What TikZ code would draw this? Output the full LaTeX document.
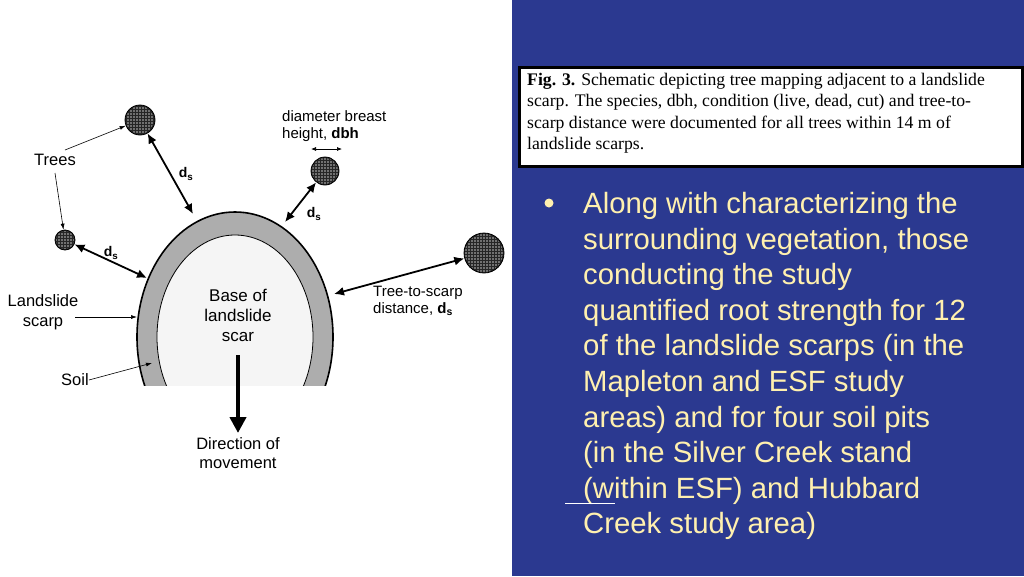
\documentclass[tikz,border=0pt]{standalone}
\usepackage{fontspec}
\setmainfont{Liberation Sans}
\newfontfamily\serif{Liberation Serif}
\usetikzlibrary{arrows.meta}
\definecolor{panel}{RGB}{43,57,144}
\definecolor{btext}{RGB}{255,240,175}
\begin{document}
\begin{tikzpicture}[x=1pt,y=-1pt,
  lbl/.style={font=\fontsize{16.5}{19.5}\selectfont,inner sep=0pt},
  dbl/.style={line width=1.8pt,{Latex[length=10pt,width=9pt]}-{Latex[length=10pt,width=9pt]}},
  thin/.style={line width=0.6pt,-{Latex[length=6pt,width=4pt]}},
  tree/.style={circle,draw=black,line width=0.8pt,fill=black!85,inner sep=0pt}]
\useasboundingbox (0,0) rectangle (1024,576);
\fill[white] (0,0) rectangle (512,576);
\fill[panel] (512,0) rectangle (1024,576);
% scarp
\begin{scope}
\clip (0,0) rectangle (512,385);
\draw[fill=black!32,line width=1.6pt] (235,337) ellipse [x radius=98,y radius=125];
\draw[fill=black!4,line width=0.8pt] (235,337) ellipse [x radius=78,y radius=102];
\end{scope}
% trees
\foreach \n/\x/\y/\r in {t1/140/120/15,t2/65/240/10,t3/325/171/14,t4/484/253/20}{
  \node[tree,minimum size=2*\r pt] (\n) at (\x,\y) {};
  \begin{scope}
  \clip (\x,\y) circle (\r-1);
  \foreach \i in {-8,...,8}{\foreach \j in {-8,...,8}{
    \fill[white!75!black] (\x+3*\i,\y+3*\j) circle (0.8);}}
  \end{scope}
}
\coordinate (s1) at (193,214);
\coordinate (s2) at (147,278);
\coordinate (s3) at (285,222);
\coordinate (s4) at (334,294);
\draw[dbl] (t1) -- (s1);
\draw[dbl] (t2) -- (s2);
\draw[dbl] (t3) -- (s3);
\draw[dbl] (t4) -- (s4);
\coordinate (dbhA) at (311,149); \coordinate (dbhB) at (342,149);
\draw[line width=0.7pt,{Latex[length=5pt,width=4pt]}-{Latex[length=5pt,width=4pt]}] (dbhA) -- (dbhB);
% labels
\node[lbl] (trees) at (55,160) {Trees};
\draw[thin] (65,150) -- (t1);
\draw[thin] (55,173) -- (t2);
\node[lbl,font=\fontsize{14}{15}\selectfont\bfseries] (d1) at (186,174) {d\textsubscript{s}};
\node[lbl,font=\fontsize{14}{15}\selectfont\bfseries] (d2) at (111,253) {d\textsubscript{s}};
\node[lbl,font=\fontsize{14}{15}\selectfont\bfseries] (d3) at (314,214) {d\textsubscript{s}};
\node[lbl,anchor=west,align=left,font=\fontsize{15}{16.5}\selectfont] (dbh) at (282,126) {diameter breast\\height, \textbf{dbh}};
\node[lbl,align=center] (ls) at (43,312) {Landslide\\scarp};
\coordinate (lsp) at (137,317);
\draw[thin] (75,317) -- (lsp);
\node[lbl] (soil) at (75,380) {Soil};
\coordinate (soilp) at (152,363);
\draw[thin] (soil.east) -- (soilp);
\node[lbl,align=center,font=\fontsize{17}{20}\selectfont] (base) at (238,315) {Base of\\landslide\\scar};
\node[lbl,anchor=west,align=left,font=\fontsize{15}{17}\selectfont] (tts) at (373,301) {Tree-to-scarp\\distance, \textbf{d\textsubscript{s}}};
\coordinate (mv1) at (238,355);
\node[lbl,align=center] (dir) at (238,453) {Direction of\\movement};
\draw[line width=4pt,-{Triangle[length=16pt,width=16pt]}] (mv1) -- (238,433);
% caption
\node[draw=black,line width=3pt,fill=white,minimum width=503pt,minimum height=99pt,anchor=north west,inner sep=0pt] (cap) at (518,66) {};
\node[anchor=north west,align=left,inner sep=0pt,font=\serif\fontsize{17.7}{21.5}\selectfont] (captxt) at (527,73)
{\textbf{Fig. 3.} Schematic depicting tree mapping adjacent to a landslide\\scarp. The species, dbh, condition (live, dead, cut) and tree-to-\\scarp distance were documented for all trees within 14 m of\\landslide scarps.};
% bullet
\node[circle,fill=btext,minimum size=9pt,inner sep=0pt] (bul) at (549,203) {};
\node[align=left,text=btext,inner sep=0pt,font=\fontsize{29.3}{35.6}\selectfont,anchor=north west] (btxt) at (583,192)
{Along with characterizing the\\surrounding vegetation, those\\conducting the study\\quantified root strength for 12\\of the landslide scarps (in the\\Mapleton and ESF study\\areas) and for four soil pits\\(in the Silver Creek stand\\(within ESF) and Hubbard\\Creek study area)};
\coordinate (u1) at (565,503); \coordinate (u2) at (615,503);
\draw[white,line width=1pt] (u1) -- (u2);
\end{tikzpicture}
\end{document}
